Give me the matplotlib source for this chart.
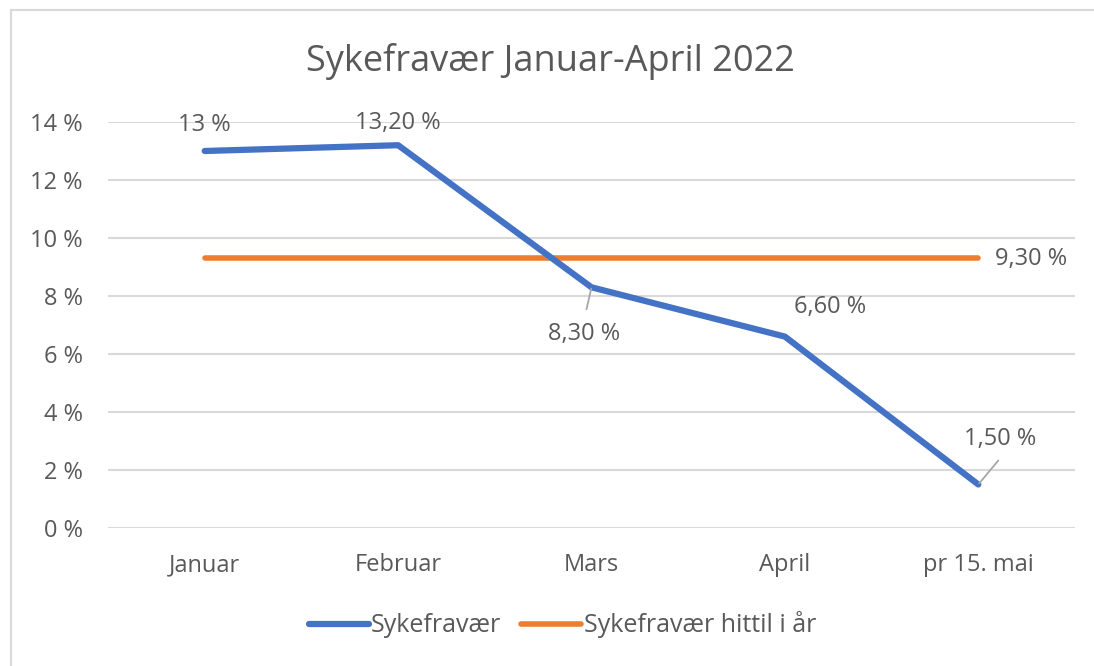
import matplotlib.pyplot as plt
from matplotlib.lines import Line2D
from matplotlib.ticker import FuncFormatter

plt.rcParams['font.family'] = ['Open Sans', 'DejaVu Sans']

# data
months = ["Januar", "Februar", "Mars", "April", "pr 15. mai"]
sykefravaer = [13.0, 13.2, 8.3, 6.6, 1.5]
hittil_i_aar = [9.3, 9.3, 9.3, 9.3, 9.3]
labels_syk = ["13 %", "13,20 %", "8,30 %", "6,60 %", "1,50 %"]
label_hittil = "9,30 %"
yticks = [0, 2, 4, 6, 8, 10, 12, 14]

blue = '#4472C4'
orange = '#ED7D31'
grey_txt = '#595959'
grid_col = '#D9D9D9'
leader_col = '#A6A6A6'
fs = 17

fig = plt.figure(figsize=(10.94, 6.66), dpi=100)
ax = fig.add_axes([108 / 1094, 138 / 666, 967 / 1094, 406 / 666])

x = list(range(len(months)))
ax.plot(x, sykefravaer, color=blue, lw=4.5, solid_capstyle='round',
        solid_joinstyle='round', label='Sykefravær', zorder=3)
ax.plot(x, hittil_i_aar, color=orange, lw=4.0, solid_capstyle='round',
        label='Sykefravær hittil i år', zorder=2)

ax.set_xlim(-0.5, len(months) - 0.5)
ax.set_ylim(0, 14)
ax.set_yticks(yticks)
ax.yaxis.set_major_formatter(FuncFormatter(lambda v, p: f"{int(v)} %"))
ax.set_xticks(x)
ax.set_xticklabels(months)
ax.grid(axis='y', color=grid_col, lw=1.5)
ax.set_axisbelow(True)
for s in ax.spines.values():
    s.set_visible(False)
ax.tick_params(axis='both', length=0, labelsize=fs, colors=grey_txt)
ax.tick_params(axis='y', pad=18)
ax.tick_params(axis='x', pad=18)

# data labels (offsets in pixels)
offsets = [(0, 26), (0, 22), (-7, -47), (45, 30), (22, 45)]
for i, (val, txt) in enumerate(zip(sykefravaer, labels_syk)):
    ax.annotate(txt, xy=(i, val), xytext=offsets[i], textcoords='offset pixels',
                ha='center', va='center', fontsize=fs, color=grey_txt)

# leader lines for Mars and pr 15. mai
ax.annotate('', xy=(2, sykefravaer[2]), xytext=(-5, -22), textcoords='offset pixels',
            arrowprops=dict(arrowstyle='-', color=leader_col, lw=1.3, shrinkA=0, shrinkB=1))
ax.annotate('', xy=(4, sykefravaer[4]), xytext=(20, 24), textcoords='offset pixels',
            arrowprops=dict(arrowstyle='-', color=leader_col, lw=1.3, shrinkA=0, shrinkB=1))

ax.annotate(label_hittil, xy=(4, hittil_i_aar[4]), xytext=(17, -1), textcoords='offset pixels',
            ha='left', va='center', fontsize=fs, color=grey_txt)

fig.text(550 / 1094, 1 - 62 / 666, "Sykefravær Januar-April 2022", ha='center', va='center',
         fontsize=26, color=grey_txt)

fig.legend(loc='center', bbox_to_anchor=(0.514, 1 - 625 / 666), ncol=2, frameon=False,
           fontsize=18, labelcolor=grey_txt, handlelength=2.4, handletextpad=0.1,
           columnspacing=0.8)

# chart frame (left and top edges visible in the screenshot)
fig.add_artist(Line2D([11 / 1094, 11 / 1094], [0, 1 - 10 / 666], color=grid_col, lw=1.5))
fig.add_artist(Line2D([11 / 1094, 1], [1 - 10 / 666, 1 - 10 / 666], color=grid_col, lw=1.5))

fig.savefig('out.png', dpi=100)
